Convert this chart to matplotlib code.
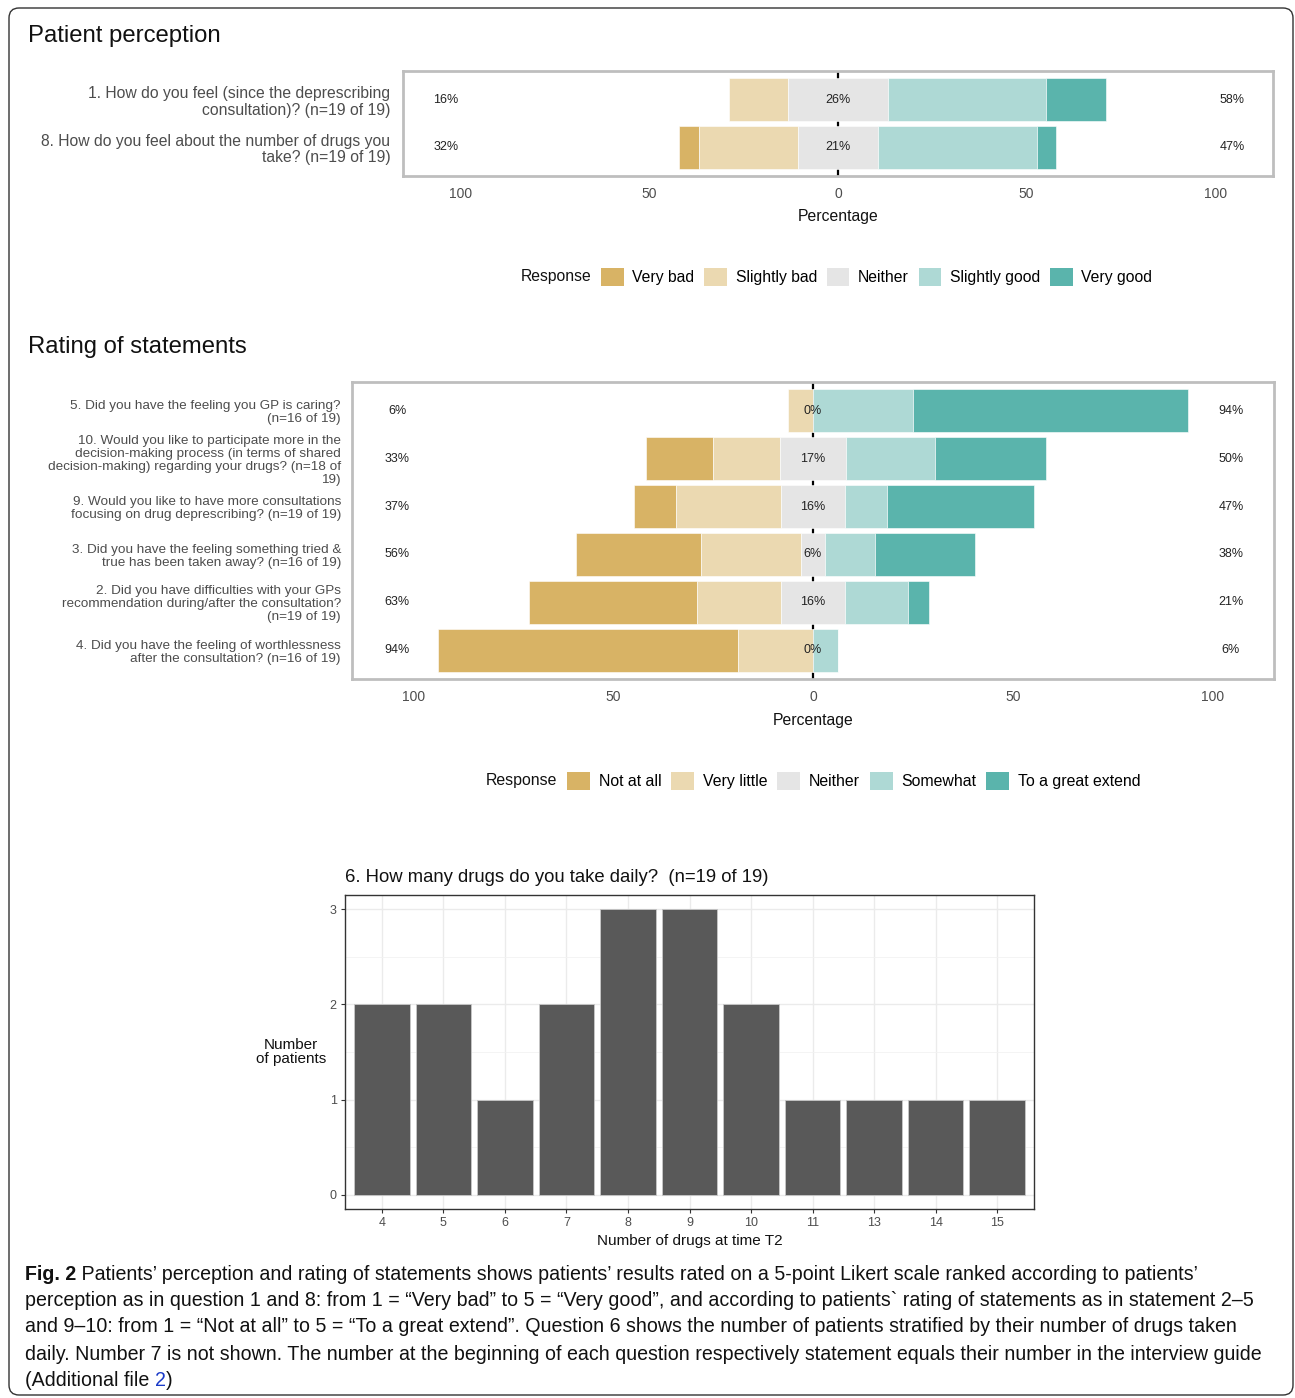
import numpy as np
import matplotlib
matplotlib.use("Agg")
import matplotlib.pyplot as plt
from matplotlib.patches import Patch, FancyBboxPatch
from matplotlib import font_manager

plt.rcParams['font.family'] = ['Liberation Sans', 'DejaVu Sans']

W, H = 1295, 1398

# ---- data ----
# patient perception (counts per answer: very bad .. very good)
perc_labels = ["1. How do you feel (since the deprescribing\nconsultation)? (n=19 of 19)",
               "8. How do you feel about the number of drugs you\ntake? (n=19 of 19)"]
perc_counts = [[0, 3, 5, 8, 3],
               [1, 5, 4, 8, 1]]
perc_levels = ["Very bad", "Slightly bad", "Neither", "Slightly good", "Very good"]

# rating of statements (counts per answer: not at all .. to a great extend)
stat_labels = ["5. Did you have the feeling you GP is caring?\n(n=16 of 19)",
               "10. Would you like to participate more in the\ndecision-making process (in terms of shared\ndecision-making) regarding your drugs? (n=18 of\n19)",
               "9. Would you like to have more consultations\nfocusing on drug deprescribing? (n=19 of 19)",
               "3. Did you have the feeling something tried &\ntrue has been taken away? (n=16 of 19)",
               "2. Did you have difficulties with your GPs\nrecommendation during/after the consultation?\n(n=19 of 19)",
               "4. Did you have the feeling of worthlessness\nafter the consultation? (n=16 of 19)"]
stat_counts = [[0, 1, 0, 4, 11],
               [3, 3, 3, 4, 5],
               [2, 5, 3, 2, 7],
               [5, 4, 1, 2, 4],
               [8, 4, 3, 3, 1],
               [12, 3, 0, 1, 0]]
stat_levels = ["Not at all", "Very little", "Neither", "Somewhat", "To a great extend"]

# number of drugs taken daily
drug_numbers = ["4", "5", "6", "7", "8", "9", "10", "11", "13", "14", "15"]
drug_patients = [2, 2, 1, 2, 3, 3, 2, 1, 1, 1, 1]

colors = ["#D8B365", "#EBD9B1", "#E5E5E5", "#AED9D5", "#5AB4AC"]


def fx(px):
    return px / W


def fy(py):
    return 1 - py / H


def likert(ax, labels, counts, label_size, linespacing, ypad):
    counts = np.array(counts, dtype=float)
    pct = counts / counts.sum(axis=1, keepdims=True) * 100
    rows = np.arange(len(labels), 0, -1)
    half = pct[:, 2] / 2
    lefts = [-half - pct[:, 1] - pct[:, 0], -half - pct[:, 1], -half, half, half + pct[:, 3]]
    ax.axvline(0, color='black', lw=1.6, zorder=0.5)
    for k in range(5):
        ax.barh(rows, pct[:, k], left=lefts[k], height=0.9, color=colors[k],
                edgecolor='white', lw=0.4, zorder=2)
    low = pct[:, 0] + pct[:, 1]
    high = pct[:, 3] + pct[:, 4]
    for r, lo, ne, hi in zip(rows, low, pct[:, 2], high):
        ax.text(-104, r, "%d%%" % int(round(lo)), ha='center', va='center', fontsize=9, color='#222222', zorder=3)
        ax.text(0, r, "%d%%" % int(round(ne)), ha='center', va='center', fontsize=9, color='#222222', zorder=3)
        ax.text(104.5, r, "%d%%" % int(round(hi)), ha='center', va='center', fontsize=9, color='#222222', zorder=3)
    ax.set_xlim(-115.3, 115.3)
    ax.set_ylim(0.4, len(labels) + 0.6)
    ax.set_xticks([-100, -50, 0, 50, 100])
    ax.set_xticklabels(["100", "50", "0", "50", "100"])
    ax.set_yticks(rows)
    ax.set_yticklabels(labels, fontsize=label_size, color='#4D4D4D', linespacing=linespacing)
    ax.tick_params(axis='x', length=0, pad=8, labelsize=10, labelcolor='#4D4D4D')
    ax.tick_params(axis='y', length=0, pad=ypad)
    for s in ax.spines.values():
        s.set_color('#BEBEBE')
        s.set_linewidth(2)


def legend_row(levels, x0, yc, fs):
    handles = [Patch(facecolor=c, edgecolor='none', label=l) for c, l in zip(colors, levels)]
    fig.legend(handles=handles, loc='center left', bbox_to_anchor=(fx(x0), fy(yc)), ncol=5,
               frameon=False, fontsize=fs, handlelength=1.45, handleheight=1.45,
               handletextpad=0.55, columnspacing=0.62, borderpad=0, borderaxespad=0)
    fig.text(fx(x0 - 10), fy(yc), "Response", ha='right', va='center', fontsize=fs, color='#111111')


fig = plt.figure(figsize=(W / 100, H / 100), dpi=100)

# outer frame
fig.patches.append(FancyBboxPatch((0.09, 0.03), 12.84, 13.87, boxstyle='round,pad=0,rounding_size=0.1',
                                  transform=fig.dpi_scale_trans, fill=False, ec='#333333', lw=1.0))

# ---- patient perception ----
fig.text(fx(28), fy(36), "Patient perception", fontsize=17.2, va='center', color='#111111')
ax1 = fig.add_axes([fx(403), fy(176), (1273 - 403) / W, (176 - 71) / H])
likert(ax1, perc_labels, perc_counts, 11.3, 1.12, 9)
ax1.set_xlabel("Percentage", fontsize=11.3, color='#111111', va='center')
ax1.xaxis.set_label_coords(0.5, (176 - 216) / (176 - 71))
legend_row(perc_levels, 601, 277, 11.3)

# ---- rating of statements ----
fig.text(fx(28), fy(347), "Rating of statements", fontsize=17.2, va='center', color='#111111')
ax2 = fig.add_axes([fx(352), fy(679), (1274 - 352) / W, (679 - 382) / H])
likert(ax2, stat_labels, stat_counts, 9.7, 1.1, 8)
ax2.set_xlabel("Percentage", fontsize=11.3, color='#111111', va='center')
ax2.xaxis.set_label_coords(0.5, (679 - 720) / (679 - 382))
legend_row(stat_levels, 567, 781, 11.4)

# ---- number of drugs ----
ax3 = fig.add_axes([fx(345), fy(1209), (1034 - 345) / W, (1209 - 895) / H])
xpos = np.arange(1, len(drug_numbers) + 1)
ax3.bar(xpos, drug_patients, width=0.9, color='#595959', edgecolor='#C8C8C8', lw=0.6, zorder=2)
ax3.set_xlim(0.4, len(drug_numbers) + 0.6)
ax3.set_ylim(-0.15, 3.15)
ax3.set_xticks(xpos)
ax3.set_xticklabels(drug_numbers)
ax3.set_yticks([0, 1, 2, 3])
ax3.set_yticks([0.5, 1.5, 2.5], minor=True)
ax3.grid(True, which='major', color='#EBEBEB', lw=1.0, zorder=0)
ax3.grid(True, which='minor', axis='y', color='#F2F2F2', lw=0.6, zorder=0)
ax3.set_axisbelow(True)
ax3.tick_params(which='major', length=3, color='#333333', labelsize=9, labelcolor='#4D4D4D', pad=3)
ax3.tick_params(which='minor', length=0)
for s in ax3.spines.values():
    s.set_color('#333333')
    s.set_linewidth(1.0)
ax3.text(0, (1209 - 878) / (1209 - 895), "6. How many drugs do you take daily?  (n=19 of 19)",
         transform=ax3.transAxes, fontsize=13.3, va='center', color='#111111')
ax3.set_ylabel("Number\nof patients", rotation=0, fontsize=11, color='#111111', ha='center', va='center',
               linespacing=1.05)
ax3.yaxis.set_label_coords((291 - 345) / (1034 - 345), 0.5)
ax3.set_xlabel("Number of drugs at time T2", fontsize=11, color='#111111', va='center')
ax3.xaxis.set_label_coords(0.5, (1209 - 1241) / (1209 - 895))

# ---- caption ----
names = {f.name for f in font_manager.fontManager.ttflist}
cap_font = 'Liberation Sans Narrow' if 'Liberation Sans Narrow' in names else 'Liberation Sans'
cap_lines = [" Patients\u2019 perception and rating of statements shows patients\u2019 results rated on a 5-point Likert scale ranked according to patients\u2019",
             "perception as in question 1 and 8: from 1 = \u201cVery bad\u201d to 5 = \u201cVery good\u201d, and according to patients` rating of statements as in statement 2\u20135",
             "and 9\u201310: from 1 = \u201cNot at all\u201d to 5 = \u201cTo a great extend\u201d. Question 6 shows the number of patients stratified by their number of drugs taken",
             "daily. Number 7 is not shown. The number at the beginning of each question respectively statement equals their number in the interview guide"]
cap_ends = [1268, 1259, 1243, 1268]
cap_y = [1274, 1301, 1327, 1354, 1381]
renderer = fig.canvas.get_renderer()

size = 14
t_bold = fig.text(fx(25), fy(cap_y[0]), "Fig. 2", fontsize=size, fontweight='bold', family=cap_font,
                  va='center', color='#111111')
t_rest = fig.text(0, fy(cap_y[0]), cap_lines[0], fontsize=size, family=cap_font, va='center', color='#111111')
line_texts = [fig.text(fx(25), fy(y), line, fontsize=size, family=cap_font, va='center', color='#111111')
              for line, y in zip(cap_lines[1:], cap_y[1:4])]
# pick one font size so that every caption line fits inside its width
widths = [t_bold.get_window_extent(renderer).width + t_rest.get_window_extent(renderer).width]
widths += [t.get_window_extent(renderer).width for t in line_texts]
size = min(size * (e - 25) / w for e, w in zip(cap_ends, widths))
for t in [t_bold, t_rest] + line_texts:
    t.set_fontsize(size)
bw = t_bold.get_window_extent(renderer).width
t_rest.set_x(fx(25 + bw))
t5 = fig.text(fx(25), fy(cap_y[4]), "(Additional file ", fontsize=size, family=cap_font, va='center', color='#111111')
x5 = 25 + t5.get_window_extent(renderer).width
t6 = fig.text(fx(x5), fy(cap_y[4]), "2", fontsize=size, family=cap_font, va='center', color='#1A3AC8')
x6 = x5 + t6.get_window_extent(renderer).width
fig.text(fx(x6), fy(cap_y[4]), ")", fontsize=size, family=cap_font, va='center', color='#111111')

fig.savefig("out.png", dpi=100)
